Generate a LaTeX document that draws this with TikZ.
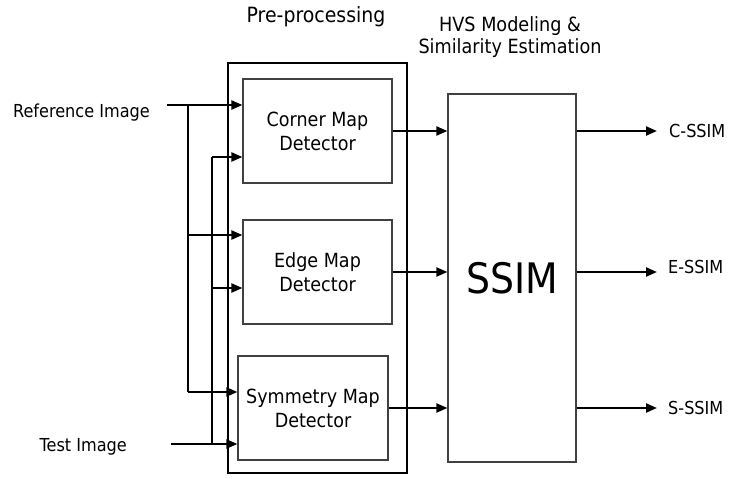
\documentclass[tikz,border=0pt]{standalone}
\usepackage{fontspec}
\setmainfont{DejaVu Sans}[FakeStretch=0.9]
\usetikzlibrary{arrows.meta}
\begin{document}
\begin{tikzpicture}[x=1pt,y=-1pt,
  blk/.style={draw=black!75, line width=1.2pt, rectangle, inner sep=0pt, align=center, font=\fontsize{19.5}{24}\selectfont},
  arr/.style={line width=2.2pt, -{Triangle[length=11pt,width=9pt]}},
  wire/.style={line width=2.2pt},
  lbl/.style={font=\fontsize{17.9}{21}\selectfont, inner sep=0pt},
  ttl/.style={inner sep=0pt}]
\useasboundingbox (0,0) rectangle (731,479);
% boxes
\node[draw=black, line width=2.2pt, minimum width=179pt, minimum height=410pt, inner sep=0pt] (outer) at (317.5,268) {};
\node[blk, minimum width=149pt, minimum height=104pt] (corner) at (317.5,131) {Corner Map\\Detector};
\node[blk, minimum width=149pt, minimum height=104pt] (edge) at (317.5,272) {Edge Map\\Detector};
\node[blk, minimum width=150pt, minimum height=104pt] (sym) at (313,408) {Symmetry Map\\Detector};
\node[blk, minimum width=128pt, minimum height=368pt, font=\fontsize{42}{48}\selectfont] (ssim) at (512,278) {SSIM};
% titles
\node[ttl, font=\fontsize{21}{25}\selectfont, anchor=base] (pre) at (316,23) {Pre-processing};
\node[ttl, font=\fontsize{19.6}{23}\selectfont, anchor=base] (hvs1) at (510,31) {HVS Modeling \&};
\node[ttl, font=\fontsize{19.6}{23}\selectfont, anchor=base] (hvs2) at (510,53) {Similarity Estimation};
% input labels
\node[lbl, anchor=base east] (ref) at (150,117) {Reference Image};
\node[lbl, anchor=base east] (test) at (127,451) {Test Image};
% output labels
\node[lbl, anchor=west] (cssim) at (669,131) {C-SSIM};
\node[lbl, anchor=west] (essim) at (668,267) {E-SSIM};
\node[lbl, anchor=west] (sssim) at (668,408) {S-SSIM};
% coordinates
\coordinate (refin) at (167,105);
\coordinate (testin) at (171,444);
\coordinate (rbE) at (188,235);
\coordinate (rbS) at (188,392);
\coordinate (tbC) at (212,157);
\coordinate (tbE) at (212,288);
\coordinate (tbS) at (212,444);
% reference image wires
\draw[arr] (refin) -- (refin -| corner.west);
\draw[wire] (refin -| rbS) -- (rbS);
\draw[arr] (rbE) -- (rbE -| edge.west);
\draw[arr] (rbS) -- (rbS -| sym.west);
% test image wires
\draw[arr] (testin) -- (testin -| sym.west);
\draw[wire] (tbC) -- (tbS);
\draw[arr] (tbC) -- (tbC -| corner.west);
\draw[arr] (tbE) -- (tbE -| edge.west);
% detectors to SSIM
\draw[arr] (corner.east) -- (corner.east -| ssim.west);
\draw[arr] (edge.east) -- (edge.east -| ssim.west);
\draw[arr] (sym.east) -- (sym.east -| ssim.west);
% outputs
\draw[arr] (ssim.east |- corner.east) -- ([xshift=-12pt]cssim.west |- corner.east);
\draw[arr] (ssim.east |- edge.east) -- ([xshift=-11pt]essim.west |- edge.east);
\draw[arr] (ssim.east |- sym.east) -- ([xshift=-11pt]sssim.west |- sym.east);
\end{tikzpicture}
\end{document}
